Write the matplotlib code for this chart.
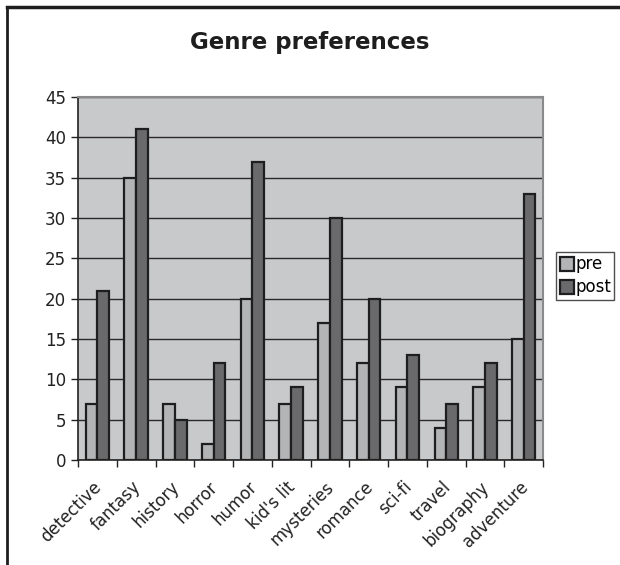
import matplotlib.pyplot as plt
import numpy as np
from matplotlib.lines import Line2D

genres = ['detective', 'fantasy', 'history', 'horror', 'humor', "kid's lit",
          'mysteries', 'romance', 'sci-fi', 'travel', 'biography', 'adventure']
pre = [7, 35, 7, 2, 20, 7, 17, 12, 9, 4, 9, 15]
post = [21, 41, 5, 12, 37, 9, 30, 20, 13, 7, 12, 33]
y_ticks = [0, 5, 10, 15, 20, 25, 30, 35, 40, 45]

plt.rcParams['font.family'] = ['DejaVu Sans']

fig = plt.figure(figsize=(6.2, 5.65), dpi=100)
ax = fig.add_axes([78/620, 1 - 460/565, 465/620, 363/565])

x = np.arange(len(genres))
w = 0.3
ax.bar(x - w/2, pre, w, color='#b3b4b6', edgecolor='#1e1e1e', lw=1.6,
       label='pre', zorder=3)
ax.bar(x + w/2, post, w, color='#6a6a6c', edgecolor='#1e1e1e', lw=1.6,
       label='post', zorder=3)

ax.set_facecolor('#c8c9cb')
ax.set_xlim(-0.5, len(genres) - 0.5)
ax.set_ylim(0, 45)
ax.set_yticks(y_ticks)
ax.yaxis.grid(True, color='#2a2a2a', lw=1.0, zorder=1)
ax.tick_params(axis='y', labelsize=12, length=5, width=1, color='#222',
               labelcolor='#222')

# ticks at category boundaries, labels near category centers
ax.set_xticks(np.arange(len(genres) + 1) - 0.5)
ax.set_xticklabels([])
ax.tick_params(axis='x', length=5, width=1, color='#222')
ax.set_xticks(x - 0.12, minor=True)
ax.set_xticklabels(genres, minor=True, rotation=45, ha='right',
                   rotation_mode='anchor', fontsize=12, color='#222')
ax.tick_params(axis='x', which='minor', length=0, pad=13)

for s in ['top', 'right']:
    ax.spines[s].set_color('#8a8a8a')
    ax.spines[s].set_linewidth(1.5)
for s in ['left', 'bottom']:
    ax.spines[s].set_color('#222')
    ax.spines[s].set_linewidth(1.2)

fig.text(0.5, 1 - 42/565, 'Genre preferences', ha='center', va='center',
         fontsize=16.5, fontweight='bold', color='#1e1e1e')

handles = [Line2D([0], [0], marker='s', ls='none', markersize=10,
                  markerfacecolor=c, markeredgecolor='#1e1e1e',
                  markeredgewidth=1.6, label=l)
           for c, l in [('#b3b4b6', 'pre'), ('#6a6a6c', 'post')]]
leg = fig.legend(handles=handles, loc='upper left',
                 bbox_to_anchor=(556/620, 1 - 252/565), fontsize=12,
                 frameon=True, fancybox=False, borderpad=0.2,
                 handletextpad=0.05, handlelength=0.9, labelspacing=0.3,
                 borderaxespad=0)
leg.get_frame().set_edgecolor('#222')
leg.get_frame().set_linewidth(1.0)

# outer chart frame (left and top edges)
fig.add_artist(Line2D([7/620, 7/620], [0, 1 - 7/565], color='#1e1e1e',
                      lw=2, transform=fig.transFigure))
fig.add_artist(Line2D([7/620, 1], [1 - 7/565, 1 - 7/565], color='#1e1e1e',
                      lw=2.5, transform=fig.transFigure))

fig.savefig('out.png', dpi=100)
